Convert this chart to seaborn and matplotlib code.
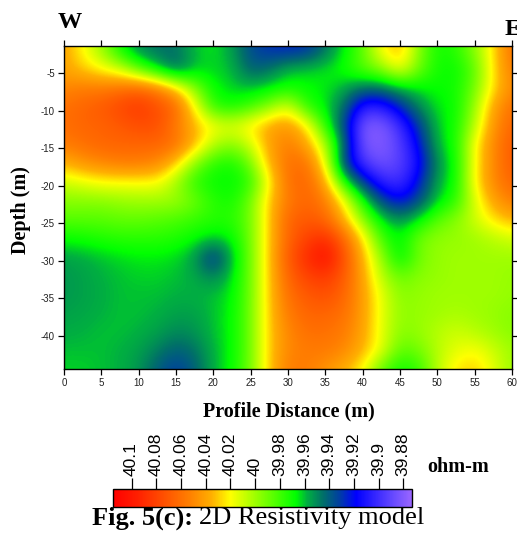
import numpy as np
import matplotlib
matplotlib.use("Agg")
import matplotlib.pyplot as plt
from matplotlib.colors import LinearSegmentedColormap, Normalize
import seaborn as sns

# ---------------- data ----------------
x_positions = [0, 2.5, 5, 7.5, 10, 12.5, 15, 17.5, 20, 22.5, 25, 27.5, 30,
               32.5, 35, 37.5, 40, 42.5, 45, 47.5, 50, 52.5, 55, 57.5, 60]
depths = [-2, -4.5, -7, -9.5, -12, -14.5, -17, -19.5, -22, -24.5, -27, -29.5,
          -32, -34.5, -37, -39.5, -42, -44.5]

row_d02_0 = [40.04, 40.02, 40.00, 39.97, 39.95, 39.945, 39.945, 39.96, 39.965, 39.955, 39.935, 39.928, 39.925, 39.928, 39.945, 39.965, 39.985, 40.02, 40.035, 39.995, 39.97, 39.975, 39.995, 40.025, 40.06]
row_d04_5 = [40.04, 40.03, 40.02, 40.01, 39.985, 39.962, 39.94, 39.96, 39.962, 39.96, 39.94, 39.945, 39.96, 39.962, 39.965, 39.97, 39.985, 39.995, 40.02, 39.99, 39.97, 39.968, 39.985, 40.025, 40.055]
row_d07_0 = [40.05, 40.055, 40.055, 40.06, 40.065, 40.055, 40.03, 39.995, 39.968, 39.962, 39.96, 39.965, 39.97, 39.968, 39.965, 39.958, 39.945, 39.945, 39.958, 39.965, 39.968, 39.97, 39.99, 40.025, 40.05]
row_d09_5 = [40.06, 40.065, 40.07, 40.078, 40.085, 40.075, 40.065, 40.02, 39.975, 39.97, 39.98, 39.995, 40.015, 39.975, 39.965, 39.945, 39.905, 39.905, 39.925, 39.95, 39.965, 39.968, 39.998, 40.04, 40.06]
row_d12_0 = [40.06, 40.065, 40.065, 40.07, 40.075, 40.075, 40.055, 40.035, 40.02, 40.015, 40.025, 40.04, 40.045, 40.025, 39.975, 39.935, 39.882, 39.88, 39.9, 39.93, 39.962, 39.97, 40.005, 40.045, 40.065]
row_d14_5 = [40.055, 40.06, 40.065, 40.065, 40.065, 40.065, 40.06, 40.035, 40.005, 39.995, 40.01, 40.04, 40.055, 40.04, 40.005, 39.945, 39.884, 39.879, 39.893, 39.92, 39.96, 39.97, 40.02, 40.05, 40.07]
row_d17_0 = [40.035, 40.045, 40.05, 40.055, 40.055, 40.05, 40.03, 39.995, 39.975, 39.97, 39.99, 40.035, 40.06, 40.06, 40.02, 39.93, 39.898, 39.885, 39.892, 39.912, 39.952, 39.968, 40.02, 40.05, 40.07]
row_d19_5 = [40.01, 40.015, 40.02, 40.02, 40.02, 40.02, 40.0, 39.975, 39.968, 39.967, 39.975, 40.02, 40.06, 40.065, 40.04, 39.972, 39.932, 39.905, 39.898, 39.922, 39.957, 39.968, 40.022, 40.05, 40.065]
row_d22_0 = [39.995, 39.995, 39.995, 39.998, 40.0, 40.0, 40.0, 39.99, 39.975, 39.97, 39.99, 40.03, 40.055, 40.065, 40.055, 40.02, 39.972, 39.935, 39.918, 39.935, 39.962, 39.975, 40.012, 40.04, 40.055]
row_d24_5 = [39.985, 39.985, 39.985, 39.987, 39.987, 39.985, 39.982, 39.978, 39.975, 39.975, 39.99, 40.03, 40.065, 40.07, 40.065, 40.035, 39.995, 39.965, 39.952, 39.965, 39.985, 39.995, 40.01, 40.025, 40.035]
row_d27_0 = [39.968, 39.97, 39.973, 39.975, 39.975, 39.975, 39.973, 39.968, 39.962, 39.966, 39.99, 40.03, 40.065, 40.08, 40.09, 40.065, 40.025, 39.98, 39.965, 39.99, 39.997, 39.998, 40.0, 40.005, 40.01]
row_d29_5 = [39.955, 39.957, 39.96, 39.963, 39.965, 39.965, 39.963, 39.955, 39.925, 39.958, 39.99, 40.03, 40.07, 40.09, 40.105, 40.075, 40.035, 39.998, 39.962, 39.99, 39.998, 40.0, 40.0, 40.0, 40.0]
row_d32_0 = [39.953, 39.955, 39.958, 39.96, 39.962, 39.962, 39.96, 39.957, 39.948, 39.962, 39.99, 40.03, 40.065, 40.08, 40.085, 40.07, 40.04, 40.005, 39.988, 39.995, 39.998, 40.0, 40.0, 40.0, 39.998]
row_d34_5 = [39.953, 39.955, 39.957, 39.96, 39.96, 39.96, 39.958, 39.958, 39.96, 39.965, 39.99, 40.03, 40.06, 40.07, 40.075, 40.065, 40.042, 40.015, 39.995, 39.998, 40.0, 40.0, 40.0, 40.0, 39.998]
row_d37_0 = [39.955, 39.956, 39.958, 39.96, 39.96, 39.958, 39.955, 39.955, 39.96, 39.967, 39.99, 40.03, 40.055, 40.065, 40.065, 40.06, 40.042, 40.015, 39.997, 39.998, 40.0, 40.002, 40.0, 39.998, 39.995]
row_d39_5 = [39.957, 39.958, 39.96, 39.96, 39.958, 39.955, 39.95, 39.952, 39.96, 39.967, 39.99, 40.03, 40.05, 40.06, 40.06, 40.055, 40.04, 40.015, 39.995, 39.998, 40.005, 40.01, 40.005, 40.0, 39.995]
row_d42_0 = [39.96, 39.96, 39.96, 39.958, 39.955, 39.948, 39.94, 39.945, 39.958, 39.967, 39.99, 40.03, 40.05, 40.055, 40.055, 40.05, 40.035, 40.015, 39.985, 39.99, 40.005, 40.015, 40.02, 40.01, 40.0]
row_d44_5 = [39.962, 39.962, 39.96, 39.958, 39.953, 39.94, 39.93, 39.94, 39.958, 39.968, 39.99, 40.03, 40.055, 40.055, 40.045, 40.035, 40.02, 39.985, 39.968, 39.975, 40.005, 40.025, 40.03, 40.015, 39.998]

x_ticks = [0, 5, 10, 15, 20, 25, 30, 35, 40, 45, 50, 55, 60]
y_ticks = [-5, -10, -15, -20, -25, -30, -35, -40]
cbar_ticks = [40.1, 40.08, 40.06, 40.04, 40.02, 40.0, 39.98, 39.96, 39.94, 39.92, 39.9, 39.88]
cbar_tick_labels = ["40.1", "40.08", "40.06", "40.04", "40.02", "40", "39.98",
                    "39.96", "39.94", "39.92", "39.9", "39.88"]
value_min, value_max = 39.873, 40.115

# colour scale stops (value -> colour)
cmap_stops = [39.873, 39.887, 39.918, 39.932, 39.945, 39.958, 39.967, 40.02, 40.035, 40.053, 40.095, 40.115]
cmap_colors = ["#9a66ff", "#6a4cff", "#0000ff", "#0040a0", "#007068", "#00b040",
               "#00ff00", "#ffff00", "#ffb000", "#ff8000", "#ff2000", "#ff0000"]

# ---------------- style ----------------
sns.set_style("ticks")
plt.rcParams['font.family'] = ['Liberation Sans', 'DejaVu Sans']
plt.rcParams['axes.unicode_minus'] = False
plt.rcParams['text.color'] = 'black'
plt.rcParams['axes.edgecolor'] = 'black'
plt.rcParams['xtick.color'] = 'black'
plt.rcParams['ytick.color'] = 'black'

grid = np.array([row_d02_0, row_d04_5, row_d07_0, row_d09_5, row_d12_0, row_d14_5,
                 row_d17_0, row_d19_5, row_d22_0, row_d24_5, row_d27_0, row_d29_5,
                 row_d32_0, row_d34_5, row_d37_0, row_d39_5, row_d42_0, row_d44_5])

span = value_max - value_min
cmap = LinearSegmentedColormap.from_list(
    "resist", [((v - value_min) / span, c) for v, c in zip(cmap_stops, cmap_colors)], N=512)
norm = Normalize(vmin=value_min, vmax=value_max)

W, H = 517, 535
fig = plt.figure(figsize=(W / 100, H / 100), dpi=100)
ax = fig.add_axes([64 / W, 1 - 369 / H, 448 / W, 323 / H])

dx = np.diff(x_positions).mean()
dy = -np.diff(depths).mean()
extent = [x_positions[0] - dx / 2, x_positions[-1] + dx / 2,
          depths[-1] - dy / 2, depths[0] + dy / 2]
im = ax.imshow(grid, extent=extent, origin="upper", cmap=cmap, norm=norm,
               interpolation="bicubic", interpolation_stage="data", aspect="auto")
ax.set_xlim(0, 60)
ax.set_ylim(-44.4, -1.4)
ax.set_xticks(x_ticks)
ax.set_yticks(y_ticks)
ax.set_xticklabels([str(t) for t in x_ticks])
ax.set_yticklabels([str(t) for t in y_ticks])
ax.tick_params(direction="out", top=True, right=True, labeltop=False, labelright=False,
               length=4.5, width=0.9, labelsize=7, labelcolor="#222222", pad=2)
for s in ax.spines.values():
    s.set_linewidth(1.0)
    s.set_color("black")

serif = ["Liberation Serif", "DejaVu Serif"]
fig.text(70 / W, 1 - 28 / H, "W", family=serif, weight="bold", fontsize=17.5,
         ha="center", va="baseline", color="black")
fig.text(505 / W, 1 - 35 / H, "E", family=serif, weight="bold", fontsize=17.5,
         ha="left", va="baseline", color="black")
fig.text(289 / W, 1 - 411 / H, "Profile Distance (m)", family=serif, weight="bold",
         fontsize=14.5, ha="center", va="center", color="black")
fig.text(21 / W, 1 - 210 / H, "Depth (m)", family=serif, weight="bold",
         fontsize=14.5, ha="center", va="center", rotation=90, color="black")

# colour bar
cax = fig.add_axes([113 / W, 1 - 507 / H, 299 / W, 18 / H])
cb = fig.colorbar(im, cax=cax, orientation="horizontal")
cb.set_ticks(cbar_ticks)
cb.set_ticklabels(cbar_tick_labels)
cax.xaxis.set_ticks_position("top")
cax.xaxis.set_label_position("top")
cax.invert_xaxis()
cax.tick_params(axis="x", direction="out", length=8, width=0.9, labelsize=12.5,
                labelrotation=90, pad=1.5, labelcolor="black", color="black")
cb.outline.set_linewidth(1.0)
cb.outline.set_edgecolor("black")

fig.text(427 / W, 1 - 467 / H, "ohm-m", family=serif, weight="bold", fontsize=14.5,
         ha="left", va="center", color="black")

t1 = fig.text(92 / W, 1 - 518 / H, "Fig. 5(c):", family=serif, weight="bold",
              fontsize=19, ha="left", va="center", color="black")
fig.canvas.draw()
bb = t1.get_window_extent()
fig.text((bb.x1 + 6) / W, 1 - 518 / H, "2D Resistivity model", family=serif,
         fontsize=19, ha="left", va="center", color="black")

fig.savefig("out.png", dpi=100)
